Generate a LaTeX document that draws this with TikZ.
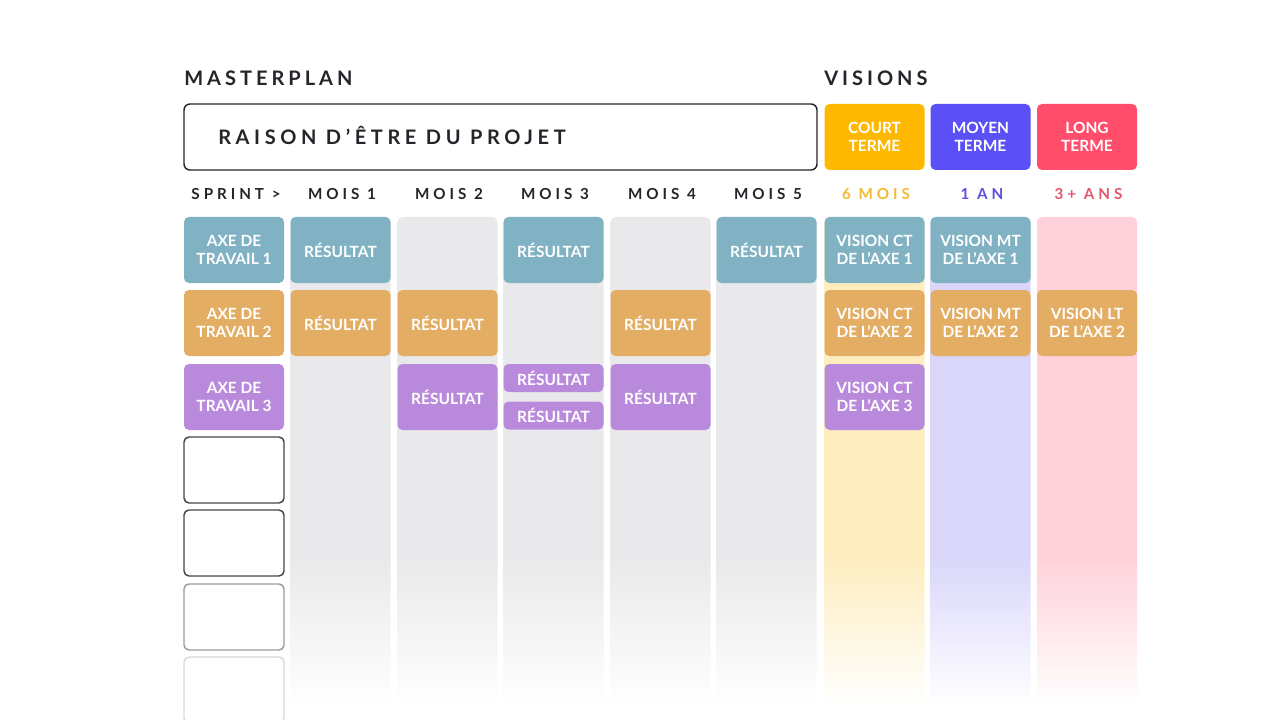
\documentclass[tikz,border=0pt]{standalone}
\usepackage{fontspec}
\setmainfont{Lato}
\usetikzlibrary{positioning}
\definecolor{MPInk}    {HTML}{24242A}
\definecolor{MPGray}   {HTML}{E9E9EB}
\definecolor{MPTeal}   {HTML}{80B2C4}
\definecolor{MPOchre}  {HTML}{E4AD64}
\definecolor{MPLilac}  {HTML}{B98ADB}
\definecolor{MPCourt}  {HTML}{FFB800}
\definecolor{MPMoyen}  {HTML}{5A50F6}
\definecolor{MPLong}   {HTML}{FF4D6B}
\definecolor{MPCourtLt}{HTML}{FDEDBF}
\definecolor{MPMoyenLt}{HTML}{D9D6FA}
\definecolor{MPLongLt} {HTML}{FFD1DA}
\definecolor{MPCourtTx}{HTML}{F2B932}
\definecolor{MPMoyenTx}{HTML}{5A4FE2}
\definecolor{MPLongTx} {HTML}{E2566D}

% columns fading out towards the bottom
\pgfdeclareverticalshading{fadegray}{100bp}{color(0bp)=(white); color(26bp)=(white);
  color(41bp)=(MPGray); color(100bp)=(MPGray)}
\pgfdeclareverticalshading{fadecourt}{100bp}{color(0bp)=(white); color(26bp)=(white);
  color(41bp)=(MPCourtLt); color(100bp)=(MPCourtLt)}
\pgfdeclareverticalshading{fademoyen}{100bp}{color(0bp)=(white); color(26bp)=(white);
  color(41bp)=(MPMoyenLt); color(100bp)=(MPMoyenLt)}
\pgfdeclareverticalshading{fadelong}{100bp}{color(0bp)=(white); color(26bp)=(white);
  color(41bp)=(MPLongLt); color(100bp)=(MPLongLt)}

\newcommand{\cardfont}{\fontsize{11.6}{13.5}\selectfont\bfseries}
\newcommand{\headfont}{\fontsize{15}{18}\selectfont\bfseries\addfontfeature{LetterSpace=20}}
\newcommand{\labfont}{\fontsize{11.4}{13.5}\selectfont\bfseries\addfontfeature{LetterSpace=26}}

\tikzset{
  card/.style={rounded corners=3.75pt, minimum width=75pt, minimum height=49.5pt,
    inner sep=0pt, align=center, text=white, font=\cardfont},
  minicard/.style={card, minimum height=21pt},
  blankcard/.style={card, fill=white, draw=#1, line width=1.1pt},
  collabel/.style={anchor=base, inner sep=0pt, font=\labfont},
  headlabel/.style={anchor=base west, inner sep=0pt, font=\headfont, text=MPInk}
}

\begin{document}
\begin{tikzpicture}[x=0.75pt,y=-0.75pt]
    \useasboundingbox (0,0) rectangle (1280,720);
    \clip (0,0) rectangle (1280,720);

    % Column backgrounds
    \foreach \cx/\cs in {340.5/fadegray,447.5/fadegray,553.5/fadegray,660.5/fadegray,766.5/fadegray,
                         874.5/fadecourt,980.5/fademoyen,1087/fadelong}{
      \shade[shading=\cs,rounded corners=3.75pt] ({\cx-50},217) rectangle ({\cx+50},716);
    }

    % Headings
    \node[headlabel] (mp)  at (184,86) {MASTERPLAN};
    \node[headlabel] (vis) at (824,86) {VISIONS};

    \node[draw=MPInk,line width=1.1pt,rounded corners=4.5pt,minimum width=474.75pt,
          minimum height=49.5pt] (raison) at (500.5,137) {};
    \node[headlabel,font=\fontsize{15}{18}\selectfont\bfseries\addfontfeature{LetterSpace=23}]
          (raisontx) at (218,145) {RAISON D’ÊTRE DU PROJET};

    \node[card,fill=MPCourt] (court) at (874.5,137) {COURT\\TERME};
    \node[card,fill=MPMoyen] (moyen) at (980.5,137) {MOYEN\\TERME};
    \node[card,fill=MPLong]  (long)  at (1087,137)  {LONG\\TERME};

    % Column labels
    \node[collabel,text=MPInk] (sprint) at (236,200)   {SPRINT >};
    \node[collabel,text=MPInk] (m1)     at (342,200)   {MOIS 1};
    \node[collabel,text=MPInk] (m2)     at (449,200)   {MOIS 2};
    \node[collabel,text=MPInk] (m3)     at (555,200)   {MOIS 3};
    \node[collabel,text=MPInk] (m4)     at (662,200)   {MOIS 4};
    \node[collabel,text=MPInk] (m5)     at (768,200)   {MOIS 5};
    \node[collabel,text=MPCourtTx] (ct) at (876,200)   {6 MOIS};
    \node[collabel,text=MPMoyenTx] (mt) at (982,200)   {1 AN};
    \node[collabel,text=MPLongTx]  (lt) at (1088.5,200) {3+ ANS};

    % Axes de travail
    \node[card,fill=MPTeal]  (axe1) at (234,250) {AXE DE\\TRAVAIL 1};
    \node[card,fill=MPOchre] (axe2) at (234,323) {AXE DE\\TRAVAIL 2};
    \node[card,fill=MPLilac] (axe3) at (234,397) {AXE DE\\TRAVAIL 3};
    \node[blankcard=MPInk!85] (vide1) at (234,470) {};
    \node[blankcard=MPInk!85] (vide2) at (234,543) {};
    \node[blankcard=MPInk!45] (vide3) at (234,617) {};
    \node[blankcard=MPInk!18] (vide4) at (234,690) {};

    % Resultats par mois
    \node[card,fill=MPTeal]  (m1a) at (340.5,250) {RÉSULTAT};
    \node[card,fill=MPOchre] (m1b) at (340.5,323) {RÉSULTAT};
    \node[card,fill=MPOchre] (m2b) at (447.5,323) {RÉSULTAT};
    \node[card,fill=MPLilac] (m2c) at (447.5,397) {RÉSULTAT};
    \node[card,fill=MPTeal]  (m3a) at (553.5,250) {RÉSULTAT};
    \node[minicard,fill=MPLilac] (m3c) at (553.5,378)   {RÉSULTAT};
    \node[minicard,fill=MPLilac] (m3d) at (553.5,415.5) {RÉSULTAT};
    \node[card,fill=MPOchre] (m4b) at (660.5,323) {RÉSULTAT};
    \node[card,fill=MPLilac] (m4c) at (660.5,397) {RÉSULTAT};
    \node[card,fill=MPTeal]  (m5a) at (766.5,250) {RÉSULTAT};

    % Visions
    \node[card,fill=MPTeal]  (ct1) at (874.5,250) {VISION CT\\DE L’AXE 1};
    \node[card,fill=MPOchre] (ct2) at (874.5,323) {VISION CT\\DE L’AXE 2};
    \node[card,fill=MPLilac] (ct3) at (874.5,397) {VISION CT\\DE L’AXE 3};
    \node[card,fill=MPTeal]  (mt1) at (980.5,250) {VISION MT\\DE L’AXE 1};
    \node[card,fill=MPOchre] (mt2) at (980.5,323) {VISION MT\\DE L’AXE 2};
    \node[card,fill=MPOchre] (lt2) at (1087,323)  {VISION LT\\DE L’AXE 2};
  \end{tikzpicture}
\end{document}
